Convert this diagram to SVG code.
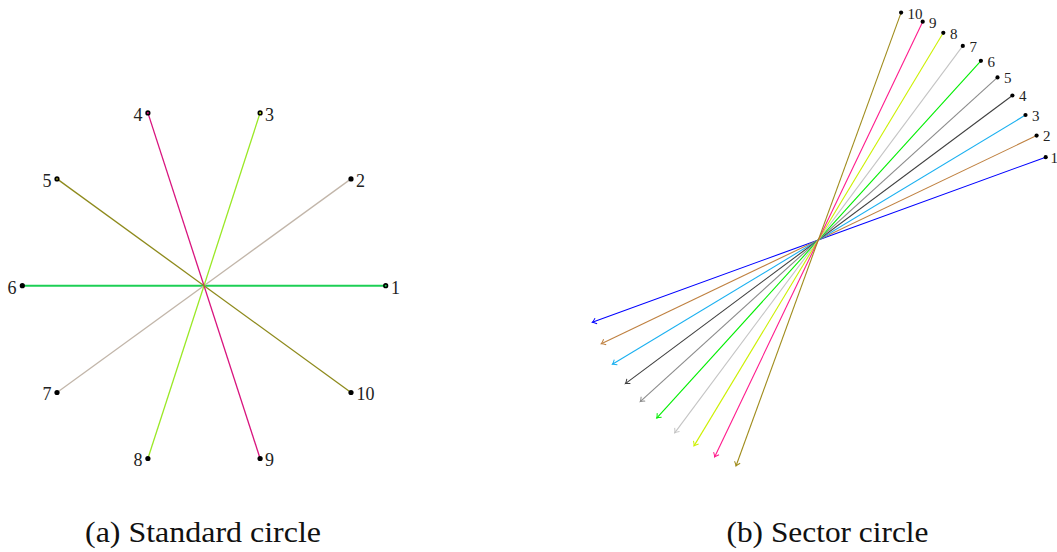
<svg xmlns="http://www.w3.org/2000/svg" width="1057" height="552" viewBox="0 0 1057 552">
<style>
text{font-family:'Liberation Serif','DejaVu Serif',serif}
.lbl{font-size:18px;fill:#222}
.lbs{font-size:15px;fill:#222}
.cap{font-size:30px;fill:#111}
.dot{fill:#000}
</style>
<defs>
<marker id="ar" viewBox="-5 -4 7 8" markerWidth="7" markerHeight="8" refX="0" refY="0" orient="auto" markerUnits="userSpaceOnUse">
<path d="M-4,-3 Q-1.5,-0.6 0,0 Q-1.5,0.6 -4,3" fill="none" stroke="context-stroke" stroke-width="1"/>
</marker>
</defs>
<rect width="1057" height="552" fill="#fff"/>

<!-- Standard circle -->
<g id="connectors-a" fill="none" stroke-width="1.3">
<line x1="385.7" y1="285.7" x2="22.3" y2="285.7" stroke="#1ccf55" stroke-width="1.9"/>
<line x1="351.0" y1="178.9" x2="57.0" y2="392.5" stroke="#c2b6aa"/>
<line x1="260.1" y1="112.9" x2="147.9" y2="458.5" stroke="#9ae825"/>
<line x1="147.9" y1="112.9" x2="260.1" y2="458.5" stroke="#d8147e"/>
<line x1="57.0" y1="178.9" x2="351.0" y2="392.5" stroke="#8e8a1c"/>
</g>
<g id="a1"><circle class="dot" cx="385.7" cy="285.7" r="2.6"/><circle cx="385.7" cy="285.7" r="1" fill="#1ccf55"/><text class="lbl" x="391" y="293.5" font-family="Liberation Serif, serif">1</text></g>
<g id="a2"><circle class="dot" cx="351.0" cy="178.9" r="2.6"/><text class="lbl" x="356" y="186.5" font-family="Liberation Serif, serif">2</text></g>
<g id="a3"><circle class="dot" cx="260.1" cy="112.9" r="2.6"/><circle cx="260.1" cy="112.9" r="1" fill="#c8f020"/><text class="lbl" x="265" y="120.5" font-family="Liberation Serif, serif">3</text></g>
<g id="a4"><circle class="dot" cx="147.9" cy="112.9" r="2.6"/><circle cx="147.9" cy="112.9" r="1" fill="#d8147e"/><text class="lbl" x="142.5" y="120.5" text-anchor="end" font-family="Liberation Serif, serif">4</text></g>
<g id="a5"><circle class="dot" cx="57.0" cy="178.9" r="2.6"/><circle cx="57.0" cy="178.9" r="1" fill="#8e8a1c"/><text class="lbl" x="51.5" y="186.5" text-anchor="end" font-family="Liberation Serif, serif">5</text></g>
<g id="a6"><circle class="dot" cx="22.3" cy="285.7" r="2.6"/><text class="lbl" x="16.5" y="293.5" text-anchor="end" font-family="Liberation Serif, serif">6</text></g>
<g id="a7"><circle class="dot" cx="57.0" cy="392.5" r="2.6"/><text class="lbl" x="51.5" y="399.5" text-anchor="end" font-family="Liberation Serif, serif">7</text></g>
<g id="a8"><circle class="dot" cx="147.9" cy="458.5" r="2.6"/><text class="lbl" x="142.5" y="465.5" text-anchor="end" font-family="Liberation Serif, serif">8</text></g>
<g id="a9"><circle class="dot" cx="260.1" cy="458.5" r="2.6"/><text class="lbl" x="265" y="465.5" font-family="Liberation Serif, serif">9</text></g>
<g id="a10"><circle class="dot" cx="351.0" cy="392.5" r="2.6"/><text class="lbl" x="356.5" y="399.5" font-family="Liberation Serif, serif">10</text></g>
<text class="cap" x="203" y="542" text-anchor="middle" textLength="236" lengthAdjust="spacingAndGlyphs" font-family="Liberation Serif, serif">(a) Standard circle</text>

<!-- Sector circle -->
<g id="connectors-b" fill="none" stroke-width="1.1">
<line x1="1045.7" y1="157.2" x2="592.3" y2="322.3" stroke="#0000ff" marker-end="url(#ar)"/>
<line x1="1036.6" y1="135.6" x2="601.3" y2="343.7" stroke="#bf8040" marker-end="url(#ar)"/>
<line x1="1025.5" y1="115.0" x2="612.4" y2="364.3" stroke="#1ab0f0" marker-end="url(#ar)"/>
<line x1="1012.4" y1="95.5" x2="625.4" y2="383.6" stroke="#404040" marker-end="url(#ar)"/>
<line x1="997.5" y1="77.4" x2="640.2" y2="401.6" stroke="#8a8a8a" marker-end="url(#ar)"/>
<line x1="980.9" y1="60.8" x2="656.7" y2="418.1" stroke="#00ee00" marker-end="url(#ar)"/>
<line x1="962.8" y1="45.9" x2="674.7" y2="432.9" stroke="#c4c4c4" marker-end="url(#ar)"/>
<line x1="943.3" y1="32.8" x2="694.0" y2="445.9" stroke="#ccf000" marker-end="url(#ar)"/>
<line x1="922.7" y1="21.7" x2="714.6" y2="457.0" stroke="#ff1a8c" marker-end="url(#ar)"/>
<line x1="901.1" y1="12.6" x2="736.0" y2="466.0" stroke="#a08c1c" marker-end="url(#ar)"/>
</g>
<g id="b1"><circle class="dot" cx="1045.7" cy="157.2" r="2.1"/><text class="lbs" x="1050.5" y="162.5" font-family="Liberation Serif, serif">1</text></g>
<g id="b2"><circle class="dot" cx="1036.6" cy="135.6" r="2.1"/><text class="lbs" x="1043" y="141" font-family="Liberation Serif, serif">2</text></g>
<g id="b3"><circle class="dot" cx="1025.5" cy="115.0" r="2.1"/><text class="lbs" x="1032" y="120.5" font-family="Liberation Serif, serif">3</text></g>
<g id="b4"><circle class="dot" cx="1012.4" cy="95.5" r="2.1"/><text class="lbs" x="1019" y="101" font-family="Liberation Serif, serif">4</text></g>
<g id="b5"><circle class="dot" cx="997.5" cy="77.4" r="2.1"/><text class="lbs" x="1004" y="83" font-family="Liberation Serif, serif">5</text></g>
<g id="b6"><circle class="dot" cx="980.9" cy="60.8" r="2.1"/><text class="lbs" x="987.5" y="66.5" font-family="Liberation Serif, serif">6</text></g>
<g id="b7"><circle class="dot" cx="962.8" cy="45.9" r="2.1"/><text class="lbs" x="969.5" y="51.5" font-family="Liberation Serif, serif">7</text></g>
<g id="b8"><circle class="dot" cx="943.3" cy="32.8" r="2.1"/><text class="lbs" x="950" y="38.5" font-family="Liberation Serif, serif">8</text></g>
<g id="b9"><circle class="dot" cx="922.7" cy="21.7" r="2.1"/><text class="lbs" x="929" y="27.5" font-family="Liberation Serif, serif">9</text></g>
<g id="b10"><circle class="dot" cx="901.1" cy="12.6" r="2.1"/><text class="lbs" x="907.5" y="18.5" font-family="Liberation Serif, serif">10</text></g>
<text class="cap" x="827.5" y="542" text-anchor="middle" textLength="202" lengthAdjust="spacingAndGlyphs" font-family="Liberation Serif, serif">(b) Sector circle</text>
</svg>
